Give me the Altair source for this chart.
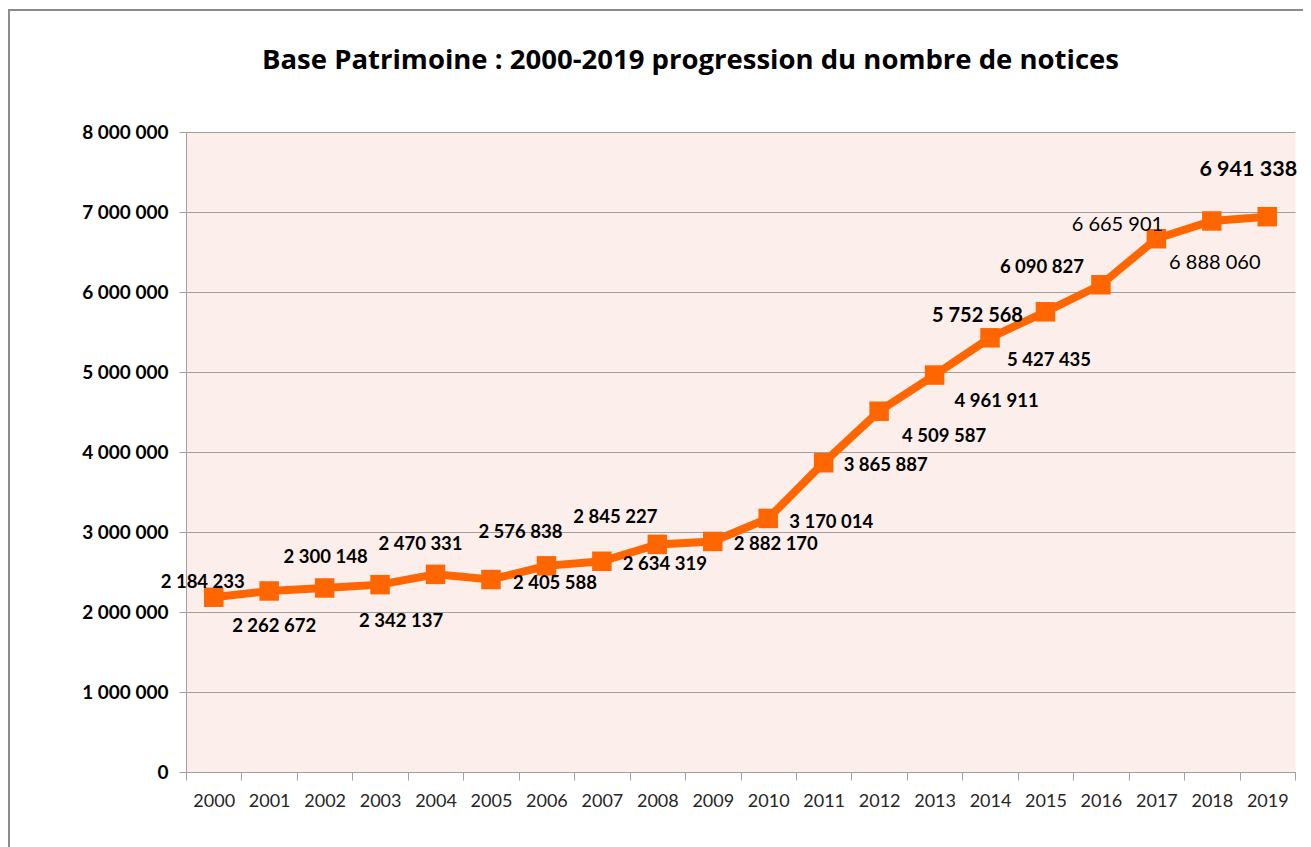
import altair as alt
import pandas as pd

years = [str(y) for y in range(2000, 2020)]
notices = [2184233, 2262672, 2300148, 2342137, 2470331, 2405588, 2576838,
           2634319, 2845227, 2882170, 3170014, 3865887, 4509587, 4961911,
           5427435, 5752568, 6090827, 6665901, 6888060, 6941338]
y_ticks = [i * 1000000 for i in range(9)]
title_text = "Base Patrimoine : 2000-2019 progression du nombre de notices"

df = pd.DataFrame({
    "year": years,
    "notices": notices,
    "label": [f"{v:,}".replace(",", " ") for v in notices],
})

# label placement (dx, dy, fontSize, fontWeight) — style only
label_style = {
    "2000": (-11, -15, 18.5, "bold"),
    "2001": (5, 35, 18.5, "bold"),
    "2002": (1, -31, 18.5, "bold"),
    "2003": (21, 36, 18.5, "bold"),
    "2004": (-15, -30, 18.5, "bold"),
    "2005": (64, 3, 18.5, "bold"),
    "2006": (-26, -34, 18.5, "bold"),
    "2007": (63, 3, 18.5, "bold"),
    "2008": (-42, -27, 18.5, "bold"),
    "2009": (63, 3, 18.5, "bold"),
    "2010": (63, 4, 18.5, "bold"),
    "2011": (62, 2, 18.5, "bold"),
    "2012": (65, 25, 18.5, "bold"),
    "2013": (62, 26, 18.5, "bold"),
    "2014": (59, 22, 18.5, "bold"),
    "2015": (-68, 4, 20, "bold"),
    "2016": (-59, -18, 18.5, "bold"),
    "2017": (-39, -14, 20, "normal"),
    "2018": (3, 42, 20, "normal"),
    "2019": (-19, -47, 21.5, "bold"),
}

FONT = "Lato"
ORANGE = "#FF6600"

x_enc = alt.X(
    "year:O",
    bandPosition=0.5,
    scale=alt.Scale(type="band", paddingInner=0, paddingOuter=0),
    axis=alt.Axis(
        title=None, labelAngle=0, tickBand="extent", tickSize=8,
        labelPadding=12, labelFont=FONT, labelFontSize=18,
        labelColor="#262626", domainColor="#A0A0A0", tickColor="#A0A0A0",
        grid=False,
    ),
)
y_enc = alt.Y(
    "notices:Q",
    scale=alt.Scale(domain=[0, 8000000], nice=False),
    axis=alt.Axis(
        title=None, values=y_ticks, tickSize=7, labelPadding=11,
        labelFont=FONT, labelFontSize=19, labelFontWeight="bold",
        labelColor="#000000", domainColor="#A0A0A0", tickColor="#A0A0A0",
        gridColor="#A0A0A0", grid=True,
        labelExpr="replace(format(datum.value, ','), /,/g, ' ')",
    ),
)

base = alt.Chart(df)

line = base.mark_line(color=ORANGE, strokeWidth=8).encode(x=x_enc, y=y_enc)
squares = base.mark_square(color=ORANGE, size=380, opacity=1, filled=True).encode(
    x=x_enc, y=y_enc)

label_layers = []
for yr, (dx, dy, fs, fw) in label_style.items():
    label_layers.append(
        base.transform_filter(alt.FieldEqualPredicate(field="year", equal=yr))
        .mark_text(dx=dx, dy=dy, fontSize=fs, fontWeight=fw, font=FONT,
                   color="#000000", align="center", baseline="middle")
        .encode(x=x_enc, y=y_enc, text="label:N")
    )

one = alt.Data(values=[{}])
title = alt.Chart(one).mark_text(
    font="Open Sans", fontSize=27.5, fontWeight="bold", color="#000000",
    align="center", baseline="alphabetic",
).encode(x=alt.value(504.5), y=alt.value(-63), text=alt.value(title_text))

frame_left = alt.Chart(one).mark_rule(color="#8C8C8C", strokeWidth=2).encode(
    x=alt.value(-177), y=alt.value(-123), y2=alt.value(720))
frame_top = alt.Chart(one).mark_rule(color="#8C8C8C", strokeWidth=2).encode(
    x=alt.value(-178), x2=alt.value(1120), y=alt.value(-122))

chart = alt.layer(line, squares, *label_layers, title, frame_left, frame_top).properties(
    width=1109,
    height=640,
    autosize=alt.AutoSizeParams(type="none"),
    padding={"left": 178, "top": 124, "right": 8, "bottom": 75},
    background="#FFFFFF",
).configure_view(fill="#FCEEEA", stroke="transparent")

chart.save("out.html", embed_options={"renderer": "svg", "actions": False})
